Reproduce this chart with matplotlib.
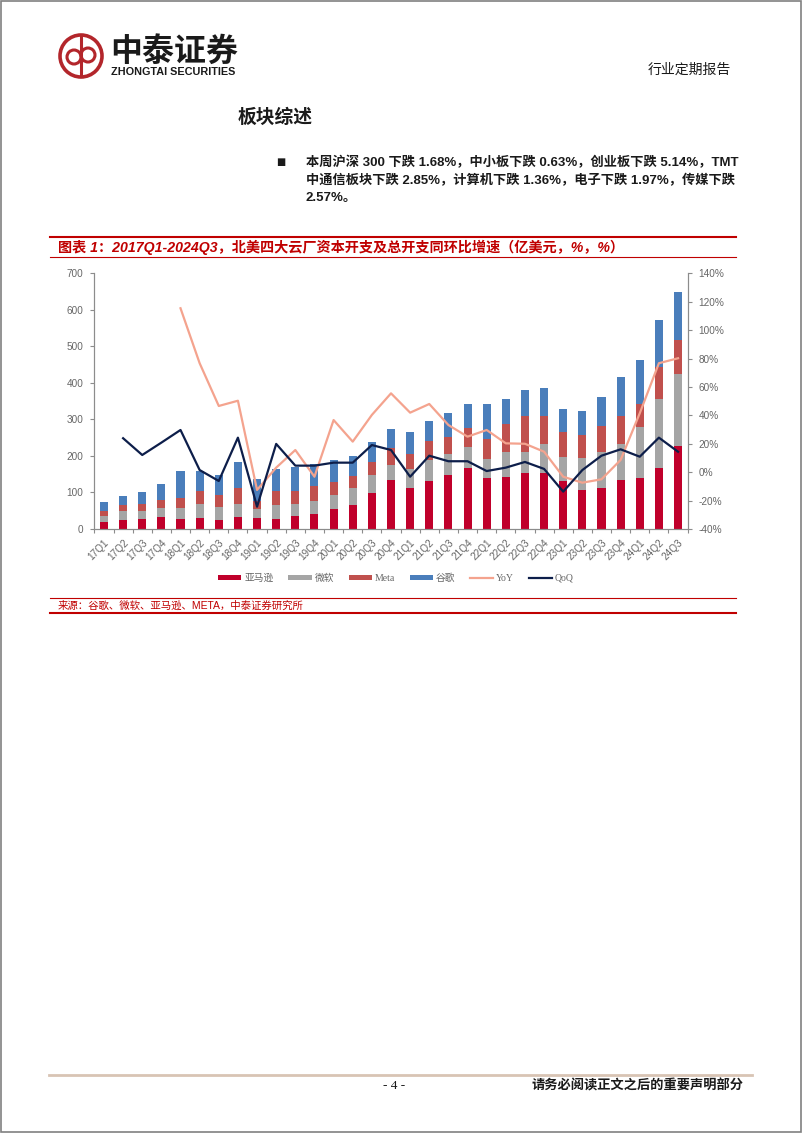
import numpy as np
import matplotlib
matplotlib.use('Agg')
import matplotlib.pyplot as plt
from matplotlib.patches import Rectangle, Circle, Patch
from matplotlib.lines import Line2D

plt.rcParams['font.family'] = ['Liberation Sans', 'Noto Sans CJK SC', 'DejaVu Sans']

# ---- data (亿美元 / %) ----
quarters = ['17Q1', '17Q2', '17Q3', '17Q4', '18Q1', '18Q2', '18Q3', '18Q4',
            '19Q1', '19Q2', '19Q3', '19Q4', '20Q1', '20Q2', '20Q3', '20Q4',
            '21Q1', '21Q2', '21Q3', '21Q4', '22Q1', '22Q2', '22Q3', '22Q4',
            '23Q1', '23Q2', '23Q3', '23Q4', '24Q1', '24Q2', '24Q3']
amazon = [19, 26, 27, 32, 28, 30, 26, 32, 29, 27, 36, 41, 56, 67, 99, 133,
          112, 131, 149, 166, 139, 142, 152, 154, 131, 106, 112, 134, 140, 166, 228]
microsoft = [17, 23, 22, 25, 29, 39, 35, 36, 25, 40, 32, 35, 38, 46, 50, 41,
             51, 59, 57, 59, 53, 68, 60, 79, 66, 89, 100, 98, 140, 190, 196]
meta = [12, 16, 19, 22, 28, 36, 33, 45, 24, 37, 36, 42, 34, 33, 35, 47,
        43, 51, 45, 51, 54, 77, 97, 76, 68, 61, 69, 77, 62, 87, 94]
google = [26, 26, 33, 45, 73, 54, 55, 70, 60, 60, 67, 59, 60, 54, 53, 54,
          59, 56, 67, 65, 96, 68, 72, 77, 63, 68, 80, 108, 121, 129, 130]
yoy = [None, None, None, None, 115.4, 76.7, 46.6, 50.3, -12.5, 3.2, 15.6, -3.2,
       36.7, 21.5, 40.3, 55.5, 41.9, 48.0, 33.2, 25.0, 29.7, 20.3, 20.0, 14.4,
       -3.2, -7.4, -5.0, 8.6, 41.5, 76.7, 80.2]
qoq = [None, 23.9, 12.1, 20.8, 29.7, 1.5, -6.2, 24.3, -24.3, 19.9, 4.6, 4.6,
       6.7, 6.7, 19.1, 15.6, -3.2, 11.6, 7.7, 7.7, 0.8, 3.2, 7.2, 2.3,
       -13.7, 1.5, 11.6, 16.1, 10.9, 24.3, 14.4]
series_names = ['亚马逊', '微软', 'Meta', '谷歌']

c_amazon = '#C0002B'
c_msft = '#A5A5A5'
c_meta = '#C0504D'
c_google = '#4A7EBB'
c_yoy = '#F4A38E'
c_qoq = '#0D1E4A'
red = '#C00000'
axis_gray = '#8C8C8C'
label_gray = '#666666'

W, H = 802, 1133
fig = plt.figure(figsize=(W / 100, H / 100), dpi=100)
fig.patch.set_facecolor('white')

# page layer in pixel coordinates
pg = fig.add_axes([0, 0, 1, 1])
pg.set_xlim(0, W)
pg.set_ylim(H, 0)
pg.axis('off')
pg.add_patch(Rectangle((0.5, 0.5), W - 1.5, H - 1.5, fill=False, edgecolor='#808080', lw=1.2))

# logo
logo_red = '#B3262B'
cx, cy = 81, 56
pg.add_patch(Circle((cx, cy), 21, fill=False, edgecolor=logo_red, lw=2.6))
pg.add_patch(Circle((cx - 7, cy + 1), 7, fill=False, edgecolor=logo_red, lw=2.2))
pg.add_patch(Circle((cx + 7, cy - 1), 7, fill=False, edgecolor=logo_red, lw=2.2))
pg.plot([cx, cx], [cy - 20, cy + 20], color=logo_red, lw=2.2)
pg.text(110, 52, '中泰证券', fontsize=23, fontweight='heavy', color='#1A1A1A',
        family=['Noto Sans CJK SC'], va='center', ha='left')
pg.text(111, 72, 'ZHONGTAI SECURITIES', fontsize=7.8, fontweight='bold', color='#1A1A1A',
        va='center', ha='left')

pg.text(731, 70, '行业定期报告', fontsize=10, color='#1A1A1A', va='center', ha='right')
pg.text(238, 118, '板块综述', fontsize=13.5, fontweight='bold', color='#1A1A1A', va='center', ha='left')

pg.text(281, 162, '■', fontsize=7, color='#1A1A1A', va='center', ha='center',
        family=['DejaVu Sans'])
body = ['本周沪深 300 下跌 1.68%，中小板下跌 0.63%，创业板下跌 5.14%，TMT',
        '中通信板块下跌 2.85%，计算机下跌 1.36%，电子下跌 1.97%，传媒下跌',
        '2.57%。']
for i, line in enumerate(body):
    pg.text(306, 163 + i * 17.5, line, fontsize=9.5, fontweight='bold', color='#1A1A1A',
            va='center', ha='left')

# figure title block
pg.plot([50, 736], [237.3, 237.3], color=red, lw=1.5)
pg.plot([50, 736], [257.3, 257.3], color=red, lw=0.8)
pg.text(58, 247.5, '图表 1：2017Q1-2024Q3，北美四大云厂资本开支及总开支同环比增速（亿美元，%，%）',
        fontsize=10.2, fontweight='bold', fontstyle='italic', color=red, va='center', ha='left')

# source block
pg.plot([50, 736], [598.3, 598.3], color=red, lw=0.8)
pg.plot([50, 736], [612.7, 612.7], color=red, lw=1.5)
pg.text(58, 605.7, '来源：谷歌、微软、亚马逊、META，中泰证券研究所', fontsize=7.5,
        color=red, va='center', ha='left')

# footer
pg.plot([49, 752], [1075, 1075], color='#D8C4B4', lw=2)
pg.text(394, 1086, '- 4 -', fontsize=9.5, color='#1A1A1A', va='center', ha='center',
        family=['Liberation Serif'])
pg.text(744, 1086, '请务必阅读正文之后的重要声明部分', fontsize=9.5, fontweight='bold',
        color='#1A1A1A', va='center', ha='right')

# ---- chart ----
ax = fig.add_axes([94.4 / W, 1 - 529 / H, (687.6 - 94.4) / W, (529 - 273.3) / H])
x = np.arange(len(quarters))
a = np.array(amazon, dtype=float)
m = np.array(microsoft, dtype=float)
mt = np.array(meta, dtype=float)
g = np.array(google, dtype=float)
bw = 0.42
ax.bar(x, a, bw, color=c_amazon, zorder=2)
ax.bar(x, m, bw, bottom=a, color=c_msft, zorder=2)
ax.bar(x, mt, bw, bottom=a + m, color=c_meta, zorder=2)
ax.bar(x, g, bw, bottom=a + m + mt, color=c_google, zorder=2)
ax.set_xlim(-0.5, len(quarters) - 0.5)
ax.set_ylim(0, 700)
ax.set_yticks(np.arange(0, 701, 100))

ax2 = ax.twinx()
yoy_arr = np.array([np.nan if v is None else v for v in yoy])
qoq_arr = np.array([np.nan if v is None else v for v in qoq])
ax2.plot(x, yoy_arr, color=c_yoy, lw=1.6, zorder=3)
ax2.plot(x, qoq_arr, color=c_qoq, lw=1.6, zorder=4)
ax2.set_ylim(-40, 140)
ax2.set_yticks(np.arange(-40, 141, 20))
ax2.set_yticklabels([f'{v}%' for v in range(-40, 141, 20)])

for a_ in (ax, ax2):
    a_.spines['top'].set_visible(False)
    for s in ('left', 'right', 'bottom'):
        a_.spines[s].set_color(axis_gray)
        a_.spines[s].set_linewidth(0.8)
    a_.set_facecolor('none')

ax.tick_params(axis='y', direction='out', length=3, width=0.8, color=axis_gray,
               labelsize=7.2, labelcolor=label_gray, pad=5)
ax2.tick_params(axis='y', direction='out', length=3, width=0.8, color=axis_gray,
                labelsize=7.2, labelcolor=label_gray, pad=5)

ax.set_xticks(x)
ax.set_xticklabels(quarters, rotation=45, ha='right', rotation_mode='anchor')
ax.tick_params(axis='x', which='major', length=0, labelsize=7.2, labelcolor=label_gray, pad=6)
ax.set_xticks(np.arange(-0.5, len(quarters), 1), minor=True)
ax.tick_params(axis='x', which='minor', direction='out', length=3, width=0.8, color=axis_gray)

handles = [Patch(facecolor=c_amazon), Patch(facecolor=c_msft), Patch(facecolor=c_meta),
           Patch(facecolor=c_google), Line2D([], [], color=c_yoy, lw=1.6),
           Line2D([], [], color=c_qoq, lw=1.6)]
labels = series_names + ['YoY', 'QoQ']
fig.legend(handles, labels, loc='center', bbox_to_anchor=(396 / W, 1 - 578 / H),
           bbox_transform=fig.transFigure, ncol=6, frameon=False,
           prop={'family': ['Liberation Serif', 'Noto Sans CJK SC'], 'size': 7},
           labelcolor=label_gray, handlelength=2.4, handleheight=0.45,
           handletextpad=0.3, columnspacing=1.5)

fig.savefig('out.png', dpi=100)
